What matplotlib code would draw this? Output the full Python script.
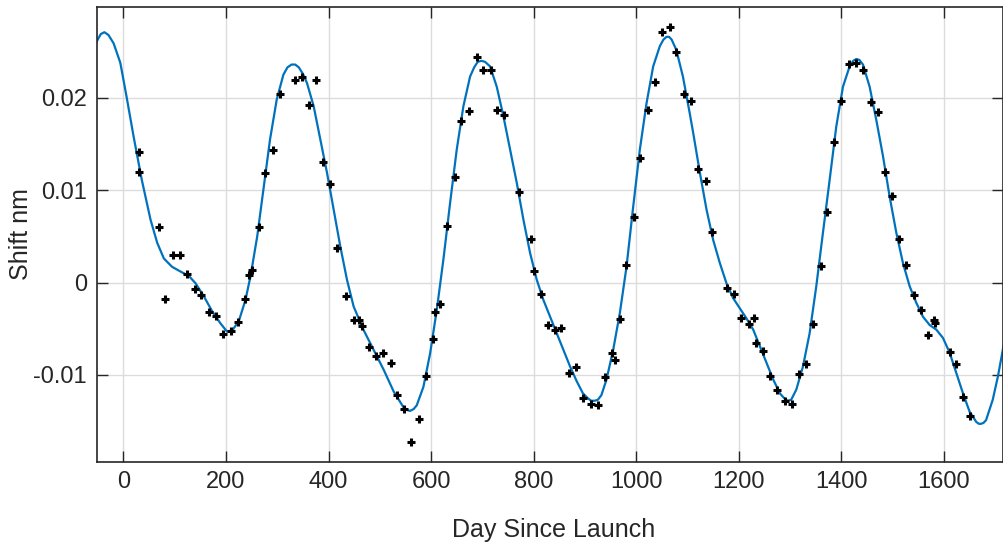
import numpy as np
import matplotlib.pyplot as plt
from matplotlib import font_manager

# measured points (day since launch, shift in nm)
obs_day = [30, 30, 69, 82, 96, 110, 124, 139, 152, 167, 180, 195, 209, 223, 237,
           245, 250, 264, 277, 291, 306, 335, 348, 362, 376, 390, 403, 417, 435,
           450, 459, 465, 478, 492, 506, 521, 533, 548, 561, 576, 591, 603, 608,
           618, 631, 646, 659, 673, 689, 702, 716, 729, 743, 772, 795, 800, 815,
           827, 841, 854, 869, 882, 897, 911, 925, 940, 953, 959, 968, 980, 995,
           1008, 1023, 1037, 1051, 1065, 1078, 1093, 1106, 1120, 1135, 1148, 1176,
           1191, 1204, 1219, 1230, 1233, 1247, 1261, 1274, 1290, 1303, 1317, 1330,
           1345, 1360, 1372, 1386, 1400, 1415, 1429, 1442, 1458, 1471, 1485, 1498,
           1513, 1526, 1541, 1555, 1568, 1581, 1583, 1612, 1623, 1638, 1651]
obs_shift = [0.0141, 0.0120, 0.0060, -0.0018, 0.0030, 0.0030, 0.0009, -0.0007,
             -0.0014, -0.0032, -0.0036, -0.0056, -0.0052, -0.0043, -0.0018,
             0.0008, 0.0014, 0.0060, 0.0119, 0.0143, 0.0204, 0.0219, 0.0222,
             0.0192, 0.0219, 0.0131, 0.0107, 0.0037, -0.0015, -0.0041, -0.0041,
             -0.0047, -0.0070, -0.0080, -0.0076, -0.0087, -0.0122, -0.0137,
             -0.0173, -0.0148, -0.0101, -0.0061, -0.0032, -0.0023, 0.0061, 0.0114,
             0.0175, 0.0186, 0.0244, 0.0230, 0.0230, 0.0187, 0.0181, 0.0098,
             0.0047, 0.0012, -0.0012, -0.0046, -0.0051, -0.0049, -0.0098, -0.0092,
             -0.0125, -0.0131, -0.0133, -0.0102, -0.0076, -0.0084, -0.0039, 0.0019,
             0.0071, 0.0135, 0.0187, 0.0217, 0.0271, 0.0277, 0.0250, 0.0204, 0.0196,
             0.0123, 0.0110, 0.0055, -0.0006, -0.0012, -0.0038, -0.0045, -0.0038,
             -0.0066, -0.0074, -0.0101, -0.0116, -0.0128, -0.0132, -0.0099, -0.0088,
             -0.0045, 0.0018, 0.0076, 0.0152, 0.0196, 0.0237, 0.0238, 0.0230,
             0.0195, 0.0185, 0.0120, 0.0094, 0.0047, 0.0019, -0.0013, -0.0030,
             -0.0057, -0.0041, -0.0044, -0.0075, -0.0088, -0.0124, -0.0145]

# fitted curve
fit_day = [-52, -44, -37, -29, -19, -6, 6, 20, 36, 53, 66, 79, 95, 111, 128,
           141, 157, 173, 189, 202, 212, 225, 238, 248, 261, 273, 286, 299,
           312, 320, 328, 335, 342, 350, 358, 371, 384, 397, 410, 423, 436, 449,
           468, 488, 508, 527, 546, 553, 559, 566, 572, 585, 598, 611, 624, 637,
           650, 663, 676, 684, 691, 698, 705, 715, 728, 741, 754, 767, 780, 793,
           806, 819, 832, 845, 858, 871, 884, 896, 905, 912, 919, 925, 932, 942,
           955, 968, 981, 994, 1007, 1020, 1033, 1046, 1053, 1059, 1064, 1069,
           1078, 1091, 1104, 1111, 1124, 1137, 1150, 1163, 1176, 1189, 1202,
           1215, 1228, 1241, 1254, 1267, 1280, 1288, 1295, 1302, 1312, 1325,
           1338, 1351, 1364, 1377, 1390, 1403, 1416, 1423, 1429, 1435, 1442,
           1455, 1468, 1481, 1494, 1507, 1520, 1533, 1546, 1559, 1572, 1585,
           1598, 1611, 1624, 1637, 1650, 1663, 1668, 1672, 1677, 1682, 1695,
           1705, 1716]
fit_shift = [0.0261, 0.0269, 0.0271, 0.0268, 0.0259, 0.0238, 0.0202, 0.0158,
             0.0111, 0.0068, 0.0043, 0.0026, 0.0017, 0.0012, 0.0007, -0.0001,
             -0.0015, -0.0031, -0.0044, -0.0053, -0.0052, -0.0042, -0.0019,
             0.0007, 0.0050, 0.0100, 0.0155, 0.0198, 0.0225, 0.0233, 0.0236,
             0.0236, 0.0233, 0.0226, 0.0216, 0.0191, 0.0155, 0.0119, 0.0079,
             0.0039, 0.0003, -0.0026, -0.0051, -0.0073, -0.0095, -0.0118,
             -0.0135, -0.0138, -0.0139, -0.0137, -0.0133, -0.0113, -0.0077,
             -0.0030, 0.0025, 0.0086, 0.0144, 0.0191, 0.0223, 0.0233, 0.0239,
             0.0240, 0.0239, 0.0234, 0.0212, 0.0180, 0.0144, 0.0108, 0.0068,
             0.0032, 0.0003, -0.0019, -0.0037, -0.0055, -0.0073, -0.0091,
             -0.0107, -0.0120, -0.0125, -0.0128, -0.0128, -0.0127, -0.0122,
             -0.0105, -0.0073, -0.0033, 0.0017, 0.0082, 0.0144, 0.0194, 0.0234,
             0.0256, 0.0263, 0.0266, 0.0266, 0.0263, 0.0252, 0.0223, 0.0184,
             0.0162, 0.0119, 0.0079, 0.0046, 0.0021, -0.0001, -0.0017, -0.0028,
             -0.0039, -0.0051, -0.0069, -0.0087, -0.0105, -0.0120, -0.0125,
             -0.0128, -0.0127, -0.0116, -0.0091, -0.0055, -0.0004, 0.0054,
             0.0111, 0.0169, 0.0212, 0.0234, 0.0240, 0.0242, 0.0241, 0.0236,
             0.0212, 0.0176, 0.0137, 0.0093, 0.0054, 0.0021, -0.0004, -0.0022,
             -0.0037, -0.0046, -0.0051, -0.0060, -0.0076, -0.0098, -0.0120,
             -0.0140, -0.0151, -0.0153, -0.0153, -0.0152, -0.0149, -0.0127,
             -0.0102, -0.0069]

x_ticks = [0, 200, 400, 600, 800, 1000, 1200, 1400, 1600]
y_ticks = [-0.01, 0, 0.01, 0.02]
y_tick_labels = ['-0.01', '0', '0.01', '0.02']

names = {f.name for f in font_manager.fontManager.ttflist}
narrow = 'Liberation Sans Narrow' in names
fam = 'Liberation Sans Narrow' if narrow else 'Liberation Sans'
plt.rcParams['font.family'] = [fam, 'DejaVu Sans']
tick_size = 20 if narrow else 17
label_size = 21 if narrow else 18

fig = plt.figure(figsize=(10.04, 5.52), dpi=100)
ax = fig.add_axes([0.0963, 0.1636, 0.9032, 0.8232])

ax.plot(obs_day, obs_shift, linestyle='none', marker='+', color='k',
        markersize=6, markeredgewidth=2.2, zorder=3)
ax.plot(fit_day, fit_shift, color='#0072BD', linewidth=1.6, zorder=2)

ax.set_xlim(-52, 1716)
ax.set_ylim(-0.0194, 0.0298)
ax.set_xticks(x_ticks)
ax.set_yticks(y_ticks)
ax.set_yticklabels(y_tick_labels)

ax.grid(True, color='#dcdcdc', linewidth=1)
ax.set_axisbelow(True)
for s in ax.spines.values():
    s.set_color('#262626')
    s.set_linewidth(1.2)
ax.tick_params(direction='in', length=8, width=1, colors='#262626',
               labelsize=tick_size, top=True, right=True, pad=7)

ax.set_xlabel('Day Since Launch', fontsize=label_size, color='#262626')
ax.set_ylabel('Shift nm', fontsize=label_size, color='#262626')
ax.xaxis.set_label_coords(0.504, -0.125)
ax.yaxis.set_label_coords(-0.070, 0.5)

fig.savefig('out.png', dpi=100)
